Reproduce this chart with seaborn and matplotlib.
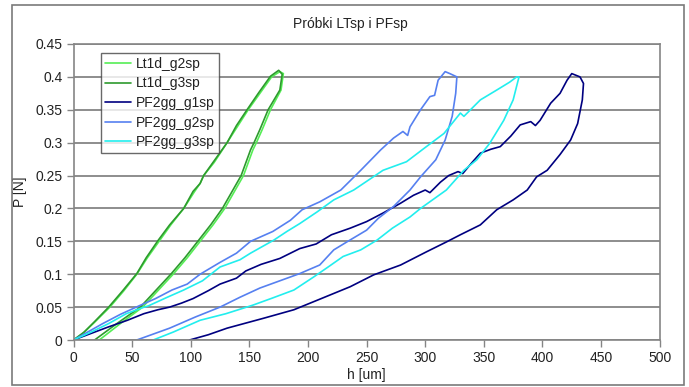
import numpy as np
import pandas as pd
import matplotlib
matplotlib.use("Agg")
import matplotlib.pyplot as plt
from matplotlib.lines import Line2D
from matplotlib.patches import Rectangle
import seaborn as sns

# ---------------- data ----------------
series_names = ["Lt1d_g2sp", "Lt1d_g3sp", "PF2gg_g1sp", "PF2gg_g2sp", "PF2gg_g3sp"]
series_colors = ["#55EE55", "#2E9A2E", "#000080", "#5680F0", "#22EEEE"]

lt_g2_h = [0, 8, 18, 31, 43, 54, 63, 73, 83, 94, 103, 108, 111, 120, 127, 131, 140, 149, 159, 169, 176,
           179, 177, 168, 161, 156, 153, 145, 137, 129, 119, 108, 97, 85, 72, 59, 40, 22]
lt_g2_P = [0, 0.01, 0.027, 0.05, 0.075, 0.1, 0.125, 0.15, 0.175, 0.2, 0.225, 0.238, 0.25, 0.27, 0.289, 0.3, 0.325, 0.35, 0.375, 0.4, 0.408,
           0.405, 0.38, 0.35, 0.32, 0.3, 0.289, 0.25, 0.225, 0.2, 0.175, 0.15, 0.125, 0.1, 0.075, 0.05, 0.025, 0]

lt_g3_h = [0, 9, 18, 30, 42, 54, 62, 72, 82, 94, 102, 108, 111, 119, 127, 131, 139, 148, 158, 168, 175,
           178, 176, 166, 159, 154, 151, 143, 135, 127, 117, 106, 95, 83, 70, 57, 37, 18]
lt_g3_P = [0, 0.012, 0.028, 0.05, 0.075, 0.101, 0.125, 0.151, 0.175, 0.2, 0.226, 0.238, 0.25, 0.27, 0.29, 0.3, 0.326, 0.35, 0.376, 0.401, 0.41,
           0.404, 0.38, 0.35, 0.32, 0.3, 0.289, 0.25, 0.225, 0.2, 0.175, 0.15, 0.125, 0.1, 0.075, 0.05, 0.025, 0]

pf_g1_h = [0, 15, 30, 46, 60, 72, 82, 92, 102, 115, 125, 139, 147, 160, 176, 193, 207, 220, 236, 250, 264, 279, 290,
           300, 304, 313, 320, 328, 332, 340, 347, 356, 364, 373, 381, 390, 394, 398, 407, 415, 421, 425,
           432, 435, 434, 430, 424, 415, 404, 395, 387, 375, 361, 347, 330, 318, 301, 279, 256, 236, 210, 188, 162, 131, 115, 99]
pf_g1_P = [0, 0.01, 0.02, 0.03, 0.04, 0.046, 0.05, 0.056, 0.063, 0.075, 0.085, 0.094, 0.105, 0.115, 0.124, 0.139, 0.146, 0.16, 0.17, 0.18, 0.193, 0.208, 0.22,
           0.228, 0.224, 0.24, 0.25, 0.256, 0.253, 0.27, 0.284, 0.29, 0.294, 0.31, 0.327, 0.332, 0.326, 0.334, 0.36, 0.375, 0.395, 0.405,
           0.4, 0.39, 0.365, 0.329, 0.304, 0.282, 0.258, 0.248, 0.228, 0.213, 0.198, 0.175, 0.16, 0.149, 0.134, 0.114, 0.099, 0.081, 0.062, 0.046, 0.033, 0.018, 0.008, 0]

pf_g2_h = [0, 12, 25, 40, 56, 70, 84, 97, 108, 125, 139, 151, 170, 185, 195, 210, 228, 245, 262, 273, 281, 285, 287,
           296, 304, 308, 311, 317,
           321, 327, 326, 323, 317, 309, 296, 287, 273, 260, 250, 234, 222, 210, 193, 176, 159, 142, 125, 104, 82, 54]
pf_g2_P = [0, 0.012, 0.025, 0.039, 0.052, 0.063, 0.076, 0.085, 0.1, 0.118, 0.132, 0.15, 0.165, 0.182, 0.198, 0.21, 0.228, 0.258, 0.289, 0.307, 0.317, 0.311, 0.324,
           0.35, 0.37, 0.372, 0.395, 0.408,
           0.405, 0.4, 0.375, 0.34, 0.304, 0.274, 0.248, 0.228, 0.203, 0.185, 0.167, 0.15, 0.137, 0.114, 0.101, 0.09, 0.079, 0.065, 0.05, 0.035, 0.018, 0]

pf_g3_h = [0, 15, 30, 45, 57, 64, 80, 94, 110, 125, 142, 151, 171, 182, 193, 208, 222, 239, 264, 284, 301, 316, 330, 333,
           347, 361, 372, 378,
           380, 375, 367, 355, 344, 333, 318, 296, 287, 272, 259, 245, 230, 218, 205, 188, 170, 153, 130, 108, 85, 68]
pf_g3_P = [0, 0.012, 0.025, 0.04, 0.048, 0.052, 0.065, 0.076, 0.09, 0.111, 0.122, 0.132, 0.152, 0.165, 0.177, 0.195, 0.213, 0.228, 0.258, 0.271, 0.294, 0.314, 0.345, 0.34,
           0.365, 0.38, 0.392, 0.4,
           0.4, 0.365, 0.334, 0.299, 0.274, 0.258, 0.228, 0.2, 0.187, 0.17, 0.152, 0.137, 0.127, 0.112, 0.096, 0.076, 0.064, 0.053, 0.04, 0.03, 0.012, 0]

x_ticks = [0, 50, 100, 150, 200, 250, 300, 350, 400, 450, 500]
y_ticks = [0, 0.05, 0.1, 0.15, 0.2, 0.25, 0.3, 0.35, 0.4, 0.45]
y_tick_labels = ["0", "0.05", "0.1", "0.15", "0.2", "0.25", "0.3", "0.35", "0.4", "0.45"]
title = "Próbki LTsp i PFsp"
x_label = "h [um]"
y_label = "P [N]"

# ---------------- build table ----------------
all_h = [lt_g2_h, lt_g3_h, pf_g1_h, pf_g2_h, pf_g3_h]
all_P = [lt_g2_P, lt_g3_P, pf_g1_P, pf_g2_P, pf_g3_P]
frames = []
for name, hh, pp in zip(series_names, all_h, all_P):
    frames.append(pd.DataFrame({"h": hh, "P": pp, "series": name}))
df = pd.concat(frames, ignore_index=True)

# ---------------- style ----------------
sns.set_style("white")
plt.rcParams["font.family"] = ["Liberation Sans", "DejaVu Sans"]
plt.rcParams["font.size"] = 10

W, H = 689, 387
fig = plt.figure(figsize=(W / 100, H / 100), dpi=100)
left, right, top, bottom = 73.5, 659.7, 44, 340
ax = fig.add_axes([left / W, 1 - bottom / H, (right - left) / W, (bottom - top) / H])

grid_c = "#858585"
for yv in y_ticks:
    ax.axhline(yv, color=grid_c, lw=1.3, zorder=0)

palette = dict(zip(series_names, series_colors))
sns.lineplot(data=df, x="h", y="P", hue="series", hue_order=series_names,
             palette=palette, sort=False, estimator=None, units="series",
             lw=1.2, legend=False, ax=ax)

ax.set_xlim(0, 500)
ax.set_ylim(0, 0.45)
ax.set_xticks(x_ticks)
ax.set_xticklabels([str(v) for v in x_ticks])
ax.set_yticks(y_ticks)
ax.set_yticklabels(y_tick_labels)
ax.tick_params(axis="both", direction="out", length=5, width=1, color=grid_c,
               labelsize=10, labelcolor="#222222", pad=3)
ax.tick_params(axis="x", bottom=True)
ax.tick_params(axis="y", left=True)
for s in ax.spines.values():
    s.set_visible(True)
    s.set_color(grid_c)
    s.set_linewidth(1.2)

ax.set_xlabel(x_label, fontsize=10, color="#222222", labelpad=2)
ax.set_ylabel(y_label, fontsize=10, color="#222222", labelpad=6)

fig.text(350 / W, 1 - 24 / H, title, ha="center", va="center", fontsize=10, color="#222222")

handles = [Line2D([0], [0], color=c, lw=1.2) for c in series_colors]
leg = ax.legend(handles, series_names, loc="upper left",
                bbox_to_anchor=(101 / W, 1 - 52.7 / H), bbox_transform=fig.transFigure,
                borderaxespad=0, fontsize=10, frameon=True, fancybox=False,
                handlelength=1.85, handletextpad=0.35, labelspacing=0.4,
                borderpad=0.3)
leg.get_frame().set_edgecolor("#444444")
leg.get_frame().set_linewidth(1.0)
for t in leg.get_texts():
    t.set_color("#222222")

# outer chart border
fig.patches.append(Rectangle((12 / W, 1 - 385 / H), (684 - 12) / W, (385 - 5) / H,
                             transform=fig.transFigure, fill=False,
                             edgecolor="#7a7a7a", lw=1.2))

fig.savefig("out.png", dpi=100)
